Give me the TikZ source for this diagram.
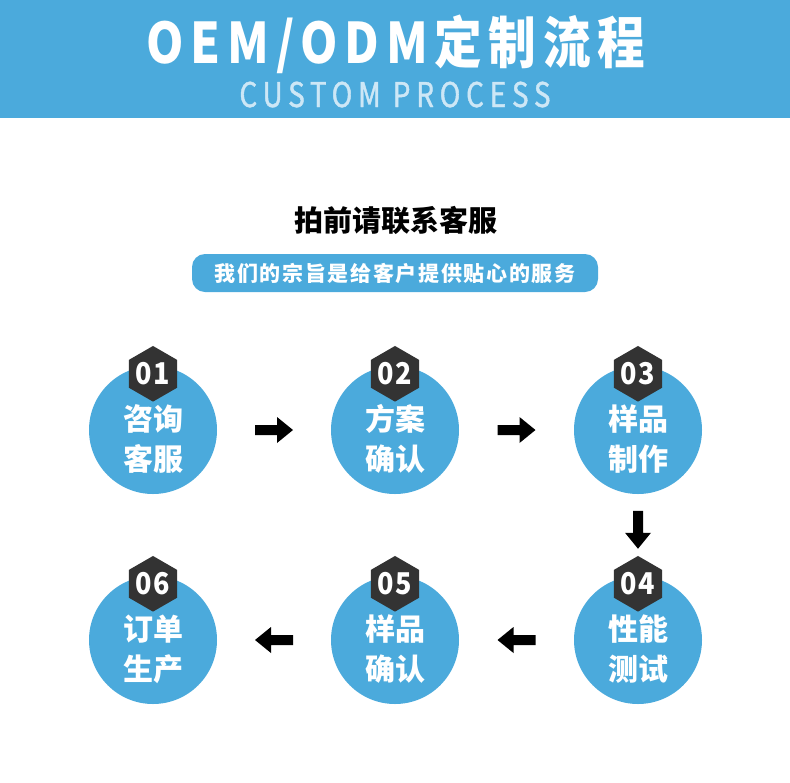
\documentclass[tikz,border=0pt]{standalone}
\usepackage{fontspec}
\setmainfont{Noto Sans CJK SC}
\newfontfamily\titlefont{Noto Sans CJK SC}[LetterSpace=12,FakeStretch=0.85]
\newfontfamily\subtitlefont{Noto Sans CJK SC}[LetterSpace=17,FakeStretch=0.82,FakeBold=1.2]
\newfontfamily\mottofont{Noto Sans CJK SC}[LetterSpace=8]
\newfontfamily\badgefont{Noto Sans CJK SC}[LetterSpace=4,FakeStretch=0.9]
\usetikzlibrary{calc,shapes.geometric}

\definecolor{bannerblue}{RGB}{75,170,220}
\definecolor{paleblue}{RGB}{205,231,246}
\definecolor{badgegray}{RGB}{51,51,51}

\tikzset{
  stage/.style={circle,fill=bannerblue,minimum size=128pt,inner sep=0pt},
  stagetext/.style={text=white,align=center,font=\bfseries\fontsize{30}{40}\selectfont},
  badge/.style={regular polygon,regular polygon sides=6,shape border rotate=30,
    fill=badgegray,text=white,minimum size=54pt,inner sep=0pt,font=\badgefont\bfseries\fontsize{30}{30}\selectfont},
  blockarrow/.pic={\fill (-19pt,-5pt) -- (3pt,-5pt) -- (3pt,-13pt) -- (19pt,0pt)
    -- (3pt,13pt) -- (3pt,5pt) -- (-19pt,5pt) -- cycle;}
}

\begin{document}
\begin{tikzpicture}[x=1pt,y=-1pt]
\useasboundingbox (0,0) rectangle (790,782);
% banner
\fill[bannerblue] (0,0) rectangle (790,118);
\node[anchor=base,text=white,font=\titlefont\bfseries\fontsize{56}{56}\selectfont] (title) at (396,63) {OEM/ODM定制流程};
\node[anchor=base,text=paleblue,font=\subtitlefont\fontsize{34}{34}\selectfont] (subtitle) at (395,107) {CUSTOM PROCESS};
% heading and motto
\node[font=\bfseries\fontsize{29}{29}\selectfont] (heading) at (396,220) {拍前请联系客服};
\node[fill=bannerblue,rounded corners=13pt,minimum width=406pt,minimum height=38pt,text=white,
  font=\mottofont\bfseries\fontsize{21}{21}\selectfont] (motto) at (395,273) {我们的宗旨是给客户提供贴心的服务};
% stages
\node[stage] (c1) at (153,430) {};
\node[stage] (c2) at (395,430) {};
\node[stage] (c3) at (638,430) {};
\node[stage] (c4) at (638,640) {};
\node[stage] (c5) at (395,640) {};
\node[stage] (c6) at (153,640) {};
\node[badge] (h1) at ([yshift=-8pt]c1.north) {01};
\node[badge] (h2) at ([yshift=-8pt]c2.north) {02};
\node[badge] (h3) at ([yshift=-8pt]c3.north) {03};
\node[badge] (h4) at ([yshift=-8pt]c4.north) {04};
\node[badge] (h5) at ([yshift=-8pt]c5.north) {05};
\node[badge] (h6) at ([yshift=-8pt]c6.north) {06};
\node[stagetext] (t1) at ([yshift=-9pt]c1.center) {咨询\\客服};
\node[stagetext] (t2) at ([yshift=-9pt]c2.center) {方案\\确认};
\node[stagetext] (t3) at ([yshift=-9pt]c3.center) {样品\\制作};
\node[stagetext] (t4) at ([yshift=-9pt]c4.center) {性能\\测试};
\node[stagetext] (t5) at ([yshift=-9pt]c5.center) {样品\\确认};
\node[stagetext] (t6) at ([yshift=-9pt]c6.center) {订单\\生产};
% arrows
\pic at ($(c1)!0.5!(c2)$) {blockarrow};
\pic at ($(c2)!0.5!(c3)$) {blockarrow};
\pic[rotate=-90] at ($(c3)!0.475!(c4)$) {blockarrow};
\pic[rotate=180] at ($(c4)!0.5!(c5)$) {blockarrow};
\pic[rotate=180] at ($(c5)!0.5!(c6)$) {blockarrow};
\end{tikzpicture}
\end{document}
